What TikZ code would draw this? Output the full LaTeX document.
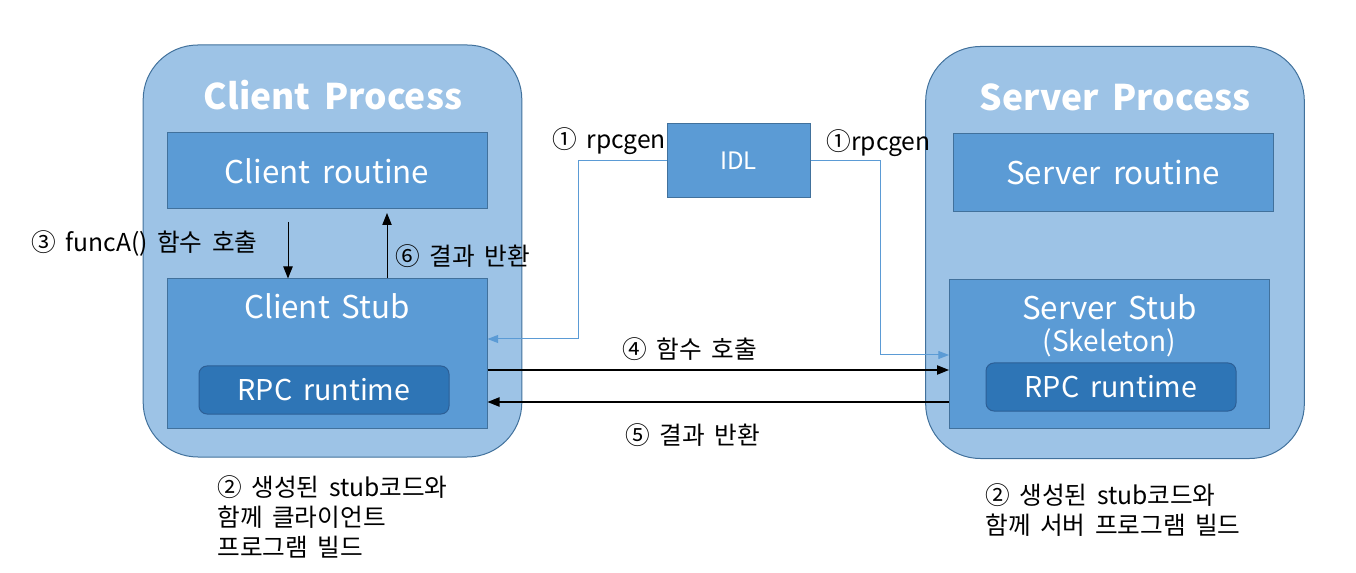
\documentclass[tikz,border=0pt]{standalone}
\usepackage{fontspec}
\setmainfont[WordSpace=1.7]{Noto Sans CJK KR}
\usetikzlibrary{arrows.meta}

\tikzset{every picture/.style={line width=0.75pt}}
\tikzset{
	procbox/.style={draw={rgb, 255:red, 65; green, 113; blue, 156 }, fill={rgb, 255:red, 157; green, 195; blue, 230 }, rounded corners=41pt, minimum width=284pt, minimum height=309pt, inner sep=0pt},
	partbox/.style={draw={rgb, 255:red, 65; green, 113; blue, 156 }, fill={rgb, 255:red, 91; green, 155; blue, 213 }, minimum width=240pt, inner sep=0pt, text=white, font=\fontsize{23.5}{27}\selectfont},
	rtbox/.style={draw={rgb, 255:red, 45; green, 95; blue, 150 }, fill={rgb, 255:red, 46; green, 117; blue, 182 }, rounded corners=6pt, minimum width=187.5pt, minimum height=36pt, inner sep=0pt, text=white, font=\fontsize{21.5}{24}\selectfont},
	proctitle/.style={text=white, inner sep=0.75pt, font=\fontsize{26.5}{32}\bfseries\selectfont},
	lbl/.style={inner sep=0.75pt, font=\fontsize{18.5}{22.5}\selectfont},
	callarr/.style={-{Triangle[length=9pt,width=7pt]}, line width=0.9pt},
	genarr/.style={-{Triangle[length=8pt,width=6pt]}, draw={rgb, 255:red, 91; green, 155; blue, 213 }, line width=0.75pt}
}

\begin{document}
\begin{tikzpicture}[x=0.75pt,y=0.75pt,yscale=-1,xscale=1]
	\useasboundingbox (0,0) rectangle (1356,573);
	
	%Shape: Rounded Rect
	\node [procbox] (cproc) at (332.5,251) {};
	%Shape: Rounded Rect
	\node [procbox] (sproc) at (1115,252.5) {};
	% Text Node
	\node [proctitle] (ctitle) at (333,95) {Client Process};
	% Text Node
	\node [proctitle] (stitle) at (1115,97) {Server Process};
	
	%Shape: Rectangle
	\node [partbox, minimum height=57pt] (croutine) at (327,171) {Client routine};
	%Shape: Rectangle
	\node [partbox, minimum height=111.75pt] (cstub) at (327,353.5) {};
	\node [partbox, draw=none, fill=none, minimum width=0pt] (cstubtxt) at (327,306) {Client Stub};
	%Shape: Rounded Rect
	\node [rtbox] (crpc) at (324,390) {RPC runtime};
	
	%Shape: Rectangle
	\node [partbox, minimum height=58.5pt] (sroutine) at (1113,173) {Server routine};
	%Shape: Rectangle
	\node [partbox, minimum height=111pt] (sstub) at (1109.5,354) {};
	\node [partbox, draw=none, fill=none, minimum width=0pt, align=center] (sstubtxt) at (1109.5,326) {Server Stub\\[-3pt]{\fontsize{21}{24}\selectfont (Skeleton)}};
	%Shape: Rounded Rect
	\node [rtbox] (srpc) at (1111,387) {RPC runtime};
	
	%Shape: Rectangle
	\node [partbox, minimum width=107.25pt, minimum height=55.5pt, font=\fontsize{18}{20}\selectfont] (idl) at (738.5,161) {IDL};
	
	%Straight Lines
	\coordinate (a3) at (288,222);
	\draw [callarr, line width=0.75pt] (a3) -- (a3 |- cstub.north);
	%Straight Lines
	\coordinate (a6) at (387,213);
	\draw [callarr, line width=0.75pt] (a6 |- cstub.north) -- (a6);
	%Straight Lines
	\coordinate (gl) at (578,339);
	\draw [genarr] (idl.west) -| (gl) -- (gl -| cstub.east);
	%Straight Lines
	\coordinate (gr) at (880,355);
	\draw [genarr] (idl.east) -| (gr) -- (gr -| sstub.west);
	%Straight Lines
	\coordinate (y4) at (700,370);
	\draw [callarr] (y4 -| cstub.east) -- (y4 -| sstub.west);
	%Straight Lines
	\coordinate (y5) at (700,402);
	\draw [callarr] (y5 -| sstub.west) -- (y5 -| cstub.east);
	
	% Text Node
	\node [lbl, anchor=west] (l3) at (30,243) {③ funcA() 함수 호출};
	% Text Node
	\node [lbl, anchor=west] (l6) at (394,256) {⑥ 결과 반환};
	% Text Node
	\node [lbl, anchor=west] (l1a) at (551,141) {① rpcgen};
	% Text Node
	\node [lbl, anchor=west] (l1b) at (825,143) {①rpcgen};
	% Text Node
	\node [lbl] (l4) at (690,349) {④ 함수 호출};
	% Text Node
	\node [lbl] (l5) at (693,435) {⑤ 결과 반환};
	% Text Node
	\node [lbl, anchor=north west, align=left] (l2a) at (216,474) {② 생성된 stub코드와\\함께 클라이언트\\프로그램 빌드};
	% Text Node
	\node [lbl, anchor=north west, align=left] (l2b) at (984,482) {② 생성된 stub코드와\\함께 서버 프로그램 빌드};
	
\end{tikzpicture}
\end{document}
